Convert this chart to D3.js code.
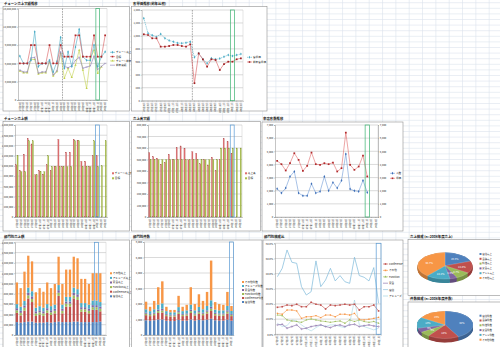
<!DOCTYPE html>
<html><head><meta charset="utf-8">
<script src="https://cdn.jsdelivr.net/npm/d3@7"></script>
<style>
html,body{margin:0;padding:0;background:#fff;overflow:hidden;}
svg{display:block;font-family:"Noto Sans CJK JP","Noto Sans",sans-serif;}
</style></head><body>
<svg id="c" width="500" height="347"></svg>
<script>
// ---------------- DATA ----------------
const months = ["07年4月","07年5月","07年6月","07年7月","07年8月","07年9月","07年10月","07年11月","07年12月","08年1月","08年2月","08年3月",
                "08年4月","08年5月","08年6月","08年7月","08年8月","08年9月","08年10月","08年11月","08年12月","09年1月","09年2月","09年3月"];
const months22 = months.slice(0,22);

// chart 1 (百万円)
const c1Names = ["チェーン売上","目標","チェーン前年","前年実績"];
const c1Actual = [7.2,6.0,6.0,6.5,11.2,5.5,6.0,6.0,6.5,4.6,6.3,10.3,5.2,7.9,5.5,8.7,11.6,7.1,6.5,6.5,9.0,5.5,7.1,7.9];
const c1Target = [6.0,6.0,6.0,9.0,9.0,6.0,6.0,6.0,9.0,6.0,6.0,9.0,7.1,7.1,7.1,10.6,10.6,7.1,7.1,7.1,10.6,7.1,7.1,10.6];
const c1Prev   = [4.75,4.47,4.47,6.65,6.65,4.25,4.47,4.47,6.27,3.93,4.64,7.64,3.55,5.18,3.71,5.73,8.18,4.9,1.9,6.8,8.18,4.36,5.45];
const c1Prev2  = [4.9,4.6,4.6,6.9,7.0,4.4,4.6,4.6,6.5,4.1,4.8,7.9,5.5,5.3,5.6,6.5,7.0,5.2,5.4,5.6,7.2,5.0,5.5,6.0];

// chart 2
const c2Names = ["客単価","前年客単価"];
const c2Blue = [1272,1040,1010,985,1030,963,930,911,890,886,895,911,669,731,639,577,654,639,650,679,705,690,705,721];
const c2Red  = [1025,1014,963,963,834,834,844,860,860,844,834,870,270,731,639,525,639,628,474,566,602,602,639,655];

// chart 3 (百万円)
const c3Names = ["チェーン売上額","目標"];
const c3Actual = [1.02,0.91,1.23,1.54,1.43,0.83,0.91,0.84,1.02,0.91,0.99,1.52,0.99,1.27,1.27,1.52,1.49,1.09,1.09,0.99,1.2,1.2];
const c3Target = [1.2,0.89,0.89,1.49,1.49,0.83,0.89,0.89,1.2,0.99,0.99,0.99,0.99,0.99,0.99,1.49,1.49,0.99,0.99,0.99,1.49,0.99,1.0,1.49];

// chart 4 (千円)
const c4Names = ["売上高","目標"];
const c4Actual = [560,526,511,459,474,546,497,606,618,598,497,569,555,462,497,453,520,404,497,684,656,555];
const c4Target = [500,500,500,500,500,500,500,500,500,500,500,500,500,500,500,500,500,500,600,600,600,600,600,600];

// chart 5
const c5Names = ["人数","単価"];
const c5Red  = [4271,4018,3538,4094,4852,4347,3513,3892,4903,4018,3968,4094,4018,4144,3462,3715,6419,3968,3589,3841,4675,3083];
const c5Blue = [2148,1820,2199,3083,3462,1820,1617,1617,2527,1820,1946,3083,1996,2628,2199,2780,4802,2123,1996,1946,2780,1870];

// chart 6 (百万円, stacked)
const deptNames = ["宿泊","Conference","Function","宴会","アミューズ","その他"];
const c6Hotel = [0.25,0.24,0.25,0.26,0.26,0.24,0.24,0.24,0.25,0.24,0.25,0.26,0.25,0.25,0.25,0.26,0.26,0.25,0.25,0.25,0.25,0.25,0.26];
const c6Conf  = [0.18,0.14,0.22,0.45,0.38,0.13,0.15,0.13,0.18,0.15,0.17,0.50,0.17,0.30,0.30,0.45,0.42,0.20,0.20,0.17,0.24,0.24,0.20];
const c6Func  = [0.05,0.05,0.06,0.06,0.06,0.05,0.05,0.05,0.05,0.05,0.05,0.06,0.05,0.06,0.06,0.06,0.06,0.05,0.05,0.05,0.05,0.05,0.05];
const c6Ban   = [0.04,0.04,0.04,0.05,0.05,0.04,0.04,0.04,0.04,0.04,0.04,0.05,0.04,0.04,0.04,0.05,0.05,0.04,0.04,0.04,0.04,0.04,0.04];
const c6Amu   = [0.08,0.08,0.09,0.10,0.10,0.07,0.08,0.07,0.08,0.08,0.08,0.10,0.08,0.09,0.09,0.10,0.10,0.08,0.08,0.08,0.09,0.09,0.09];
const c6Other = [0.42,0.36,0.57,0.62,0.58,0.30,0.35,0.31,0.42,0.35,0.40,0.55,0.40,0.53,0.53,0.60,0.60,0.47,0.47,0.40,0.53,0.53,0.56];

// chart 7 (件数, stacked)
const c7Hotel = [950,920,950,1000,1000,920,900,900,980,920,930,1000,930,980,950,990,1050,950,930,930,990,920];
const c7Conf  = [330,300,330,420,450,300,280,280,380,300,310,420,310,380,330,400,500,320,310,310,400,300];
const c7Func  = [90,80,90,120,130,80,70,70,100,80,85,120,85,100,90,110,150,90,85,85,110,80];
const c7Ban   = [70,60,70,100,110,60,55,55,80,60,65,100,65,80,70,90,120,70,65,65,90,60];
const c7Amu   = [220,180,220,320,350,180,160,160,260,180,200,320,200,270,220,280,420,210,200,200,280,190];
const c7Other = [488,280,539,1123,1422,280,152,152,727,280,356,1123,406,818,539,910,2562,483,406,356,910,320];

// chart 8 (構成比 %)
const c8Names = ["宿泊","Conference","Function","宴会","アミューズ","その他"];
const c8Main   = [38.0,43.5,55.6,47.5,46.8,31.4,25.9,28.1,48.4,31.4,35.8,43.5,35.2,38.7,34.7,33.6,50.8,38.7,37.6,35.2,44.0,20.4];
const c8Red    = [17.8,18.2,19.3,18.9,19.8,18.2,18.2,21.1,19.8,19.3,16.7,19.3,18.9,19.3,19.8,19.3,19.8,16.0,18.2,18.2,19.3,15.4];
const c8Orange = [13.8,13.2,16.0,16.0,15.4,10.5,11.6,11.6,12.3,11.0,12.7,12.7,11.6,13.2,13.2,12.7,13.8,9.9,9.5,9.9,10.5,11.2];
const c8Green  = [12.7,12.3,9.5,8.8,8.4,7.9,9.5,10.1,9.5,8.8,8.4,7.9,8.4,8.8,7.3,9.5,8.4,9.5,8.4,7.9,8.4,7.3];
const c8Purple = [6.2,6.6,4.0,5.1,6.2,3.5,4.0,5.1,5.7,6.2,5.1,4.4,5.7,6.2,5.1,6.2,6.6,5.1,5.7,6.2,5.5,5.1];
const c8Teal   = [7.3,5.1,5.7,9.5,8.8,6.2,4.0,2.2,4.4,6.2,5.1,6.2,6.2,5.1,4.4,7.3,22.6,6.2,5.1,4.0,2.9,4.0];

// pies
const pie1Names = ["宿泊売上","会議売上","料飲売上","宴会売上","アミュ売上","その他売上"];
const pie1Vals = [19.3,14.8,8.7,4.3,14.2,38.7];
const pie2Names = ["宿泊件数","会議件数","料飲件数","宴会件数","アミュ件数","その他件数"];
const pie2Vals = [42,18,6,5,13,16];

const deptColors = ["#4f81bd","#c0504d","#9bbb59","#8064a2","#4bacc6","#f79646"];

// ---------------- DRAW ----------------
const svg = d3.select("#c");
const FONT = '"Noto Sans CJK JP","Noto Sans",sans-serif';

// spreadsheet grid
const grid = svg.append("g").attr("stroke","#dce3ec").attr("stroke-width",0.6);
grid.selectAll(".v").data(d3.range(9.3,500,13.33)).join("line").attr("x1",d=>d).attr("x2",d=>d).attr("y1",0).attr("y2",347);
grid.selectAll(".h").data(d3.range(2.7,347,5.6)).join("line").attr("y1",d=>d).attr("y2",d=>d).attr("x1",0).attr("x2",500);

function panel(x,y,w,h){
  svg.append("rect").attr("x",x).attr("y",y).attr("width",w).attr("height",h)
    .attr("fill","#fff").attr("stroke","#8f8f8f").attr("stroke-width",0.6);
}
function title(x,y,t){
  svg.append("text").attr("x",x).attr("y",y).attr("font-size",3.4).attr("font-weight","bold")
    .attr("fill","#1a1a1a").attr("font-family",FONT).text(t);
}
function base(o){
  const g = svg.append("g");
  const x = d3.scaleBand().domain(o.cats).range([o.x0,o.x1]);
  const y = d3.scaleLinear().domain([0,o.ymax]).range([o.y1,o.y0]);
  const ticks = d3.range(0,o.ymax+o.ystep*0.5,o.ystep);
  g.append("g").selectAll("line").data(ticks).join("line")
    .attr("x1",o.x0).attr("x2",o.x1).attr("y1",d=>y(d)).attr("y2",d=>y(d))
    .attr("stroke","#b5b5b5").attr("stroke-width",0.5);
  g.append("line").attr("x1",o.x1).attr("x2",o.x1).attr("y1",o.y0).attr("y2",o.y1).attr("stroke","#c8c8c8").attr("stroke-width",0.5);
  const ya = g.append("g").attr("transform",`translate(${o.x0},0)`)
    .call(d3.axisLeft(y).tickValues(ticks).tickSize(1).tickPadding(0.8).tickFormat(o.fmt));
  const axes=[ya];
  if(o.right){
    const ra = g.append("g").attr("transform",`translate(${o.x1},0)`)
      .call(d3.axisRight(y).tickValues(ticks).tickSize(1).tickPadding(0.8).tickFormat(o.fmt));
    axes.push(ra);
  }
  const xa = g.append("g").attr("transform",`translate(0,${o.y1})`)
    .call(d3.axisBottom(x).tickSize(1).tickPadding(1));
  xa.selectAll("text").attr("transform","rotate(-90)").attr("x",-1.4).attr("y",0).attr("dy","0.35em").attr("text-anchor","end");
  axes.forEach(a=>a.selectAll("text").attr("font-size",o.yfs||2.6));
  xa.selectAll("text").attr("font-size",2.6);
  axes.concat([xa]).forEach(a=>{
    a.attr("font-family",FONT);
    a.selectAll("text").attr("fill","#333");
    a.select(".domain").attr("stroke","#8a8a8a").attr("stroke-width",0.5);
    a.selectAll(".tick line").attr("stroke","#8a8a8a").attr("stroke-width",0.4);
  });
  return {g,x,y,o};
}
function addLine(c, vals, color, opt){
  const {g,x,y} = c; const cats = c.o.cats;
  const pts = vals.map((v,i)=>({c:cats[i],v}));
  g.append("path").datum(pts).attr("fill","none").attr("stroke",color)
    .attr("stroke-width",opt.w||0.6).attr("stroke-dasharray",opt.dash||null)
    .attr("d",d3.line().x(d=>x(d.c)+x.bandwidth()/2).y(d=>(opt.ys||y)(d.v)));
  if(opt.symbol){
    g.append("g").selectAll("path").data(pts).join("path")
      .attr("transform",d=>`translate(${x(d.c)+x.bandwidth()/2},${(opt.ys||y)(d.v)})`)
      .attr("d",d3.symbol().type(opt.symbol).size(opt.size||2.6))
      .attr("fill",opt.stroked?"none":(opt.mfill||color))
      .attr("stroke",opt.stroked?(opt.mfill||color):"none").attr("stroke-width",0.4);
  }
}
function vline(c, cat){
  const {g,x,o}=c;
  g.append("line").attr("x1",x(cat)).attr("x2",x(cat)).attr("y1",o.y0).attr("y2",o.y1)
    .attr("stroke","#555").attr("stroke-width",0.5).attr("stroke-dasharray","1.6,1");
}
function hilite(c, cat, color){
  const {g,x,o}=c;
  g.append("rect").attr("x",x(cat)).attr("y",o.y0).attr("width",x.bandwidth()).attr("height",o.y1-o.y0)
    .attr("fill","none").attr("stroke",color).attr("stroke-width",0.7);
}
function legend(x,y0,dy,items,fs){
  fs = fs||2.6;
  const g = svg.append("g").attr("font-family",FONT);
  items.forEach((it,i)=>{
    const y=y0+i*dy;
    if(it.kind==="rect"){
      g.append("rect").attr("x",x).attr("y",y-1).attr("width",2).attr("height",2).attr("fill",it.color);
      g.append("text").attr("x",x+2.8).attr("y",y).attr("dy","0.35em").attr("font-size",fs).attr("fill","#222").text(it.label);
    } else {
      g.append("line").attr("x1",x).attr("x2",x+5).attr("y1",y).attr("y2",y).attr("stroke",it.color).attr("stroke-width",0.6).attr("stroke-dasharray",it.dash||null);
      if(it.symbol) g.append("path").attr("transform",`translate(${x+2.5},${y})`).attr("d",d3.symbol().type(it.symbol).size(2.6)).attr("fill",it.mfill||it.color);
      g.append("text").attr("x",x+6).attr("y",y).attr("dy","0.35em").attr("font-size",fs).attr("fill","#222").text(it.label);
    }
  });
}
function bars(c, series, colors){
  const {g,x,y}=c; const cats=c.o.cats;
  const inner = d3.scaleBand().domain(d3.range(series.length)).range([x.bandwidth()*0.14,x.bandwidth()*0.86]).padding(0.08);
  series.forEach((s,k)=>{
    g.append("g").selectAll("rect").data(s).join("rect")
      .attr("x",(d,i)=>x(cats[i])+inner(k)).attr("width",inner.bandwidth())
      .attr("y",d=>y(d)).attr("height",d=>y(0)-y(d))
      .attr("fill",colors[k]).attr("stroke",d3.color(colors[k]).darker(0.6)).attr("stroke-width",0.2);
  });
}
function stacked(c, series, colors){
  const {g,x,y}=c; const cats=c.o.cats;
  const rows = series[0].map((_,i)=>{const r={cat:cats[i]}; series.forEach((s,k)=>r["k"+k]=s[i]); return r;});
  const st = d3.stack().keys(series.map((_,k)=>"k"+k))(rows);
  st.forEach((layer,k)=>{
    g.append("g").selectAll("rect").data(layer).join("rect")
      .attr("x",d=>x(d.data.cat)+x.bandwidth()*0.2).attr("width",x.bandwidth()*0.6)
      .attr("y",d=>y(d[1])).attr("height",d=>y(d[0])-y(d[1]))
      .attr("fill",colors[k]);
  });
}
function pie3d(cx,cy,rx,ry,depth,vals,colors,fmt){
  const g = svg.append("g");
  const arcs = d3.pie().sort(null)(vals);
  const arc = d3.arc().innerRadius(0).outerRadius(rx);
  const k = ry/rx;
  for(let dd=depth; dd>0; dd-=0.4){
    g.append("g").attr("transform",`translate(${cx},${cy+dd}) scale(1,${k})`)
      .selectAll("path").data(arcs).join("path").attr("d",arc)
      .attr("fill",(d,i)=>d3.color(colors[i]).darker(0.7));
  }
  g.append("g").attr("transform",`translate(${cx},${cy}) scale(1,${k})`)
    .selectAll("path").data(arcs).join("path").attr("d",arc)
    .attr("fill",(d,i)=>colors[i]).attr("stroke","#fff").attr("stroke-width",0.2);
  const lab = d3.arc().innerRadius(rx*0.62).outerRadius(rx*0.62);
  g.append("g").attr("font-family",FONT).selectAll("text").data(arcs).join("text")
    .attr("x",d=>cx+lab.centroid(d)[0]).attr("y",d=>cy+lab.centroid(d)[1]*k)
    .attr("text-anchor","middle").attr("dy","0.35em").attr("font-size",2.6).attr("fill","#fff")
    .text(d=>fmt(d.data));
}
const fmtMil = d=>d3.format(",")(Math.round(d*1e6));

// ---- Chart 1 ----
panel(3,6.5,126.5,104.5);
title(4,4.5,"チェーン売上実績推移");
const ch1 = base({cats:months,x0:18,x1:107,y0:8.5,y1:100,ymax:15,ystep:3,fmt:fmtMil});
vline(ch1, months[12]);
addLine(ch1,c1Prev,"#c3d24f",{symbol:d3.symbolTriangle,size:2.2});
addLine(ch1,c1Prev2,"#8a7bb3",{symbol:d3.symbolTimes,size:2,stroked:true});
addLine(ch1,c1Actual,"#4bacc6",{symbol:d3.symbolDiamond,size:2.6});
addLine(ch1,c1Target,"#d9595b",{symbol:d3.symbolSquare,size:3,mfill:"#b02a2c"});
hilite(ch1, months[21], "#3cb371");
legend(110,52.3,4.3,[
  {label:c1Names[0],color:"#4bacc6",symbol:d3.symbolDiamond},
  {label:c1Names[1],color:"#d9595b",symbol:d3.symbolSquare,mfill:"#b02a2c"},
  {label:c1Names[2],color:"#c3d24f",symbol:d3.symbolTriangle},
  {label:c1Names[3],color:"#8a7bb3",symbol:d3.symbolTimes}]);

// ---- Chart 2 ----
panel(131.5,6.5,135.5,104.5);
title(133,4.5,"客単価推移(前年比較)");
const ch2 = base({cats:months,x0:141.7,x1:243,y0:10,y1:100.7,ymax:1400,ystep:200,fmt:d3.format(",")});
vline(ch2, months[12]);
addLine(ch2,c2Blue,"#4bacc6",{symbol:d3.symbolDiamond,size:2.6,dash:"1.2,0.7"});
addLine(ch2,c2Red,"#d9595b",{symbol:d3.symbolSquare,size:3,mfill:"#9e2224"});
hilite(ch2, months[21], "#3cb371");
legend(247,57.3,4.7,[
  {label:c2Names[0],color:"#4bacc6",symbol:d3.symbolDiamond,dash:"1.2,0.7"},
  {label:c2Names[1],color:"#d9595b",symbol:d3.symbolSquare,mfill:"#9e2224"}]);

// ---- Chart 3 ----
panel(3,121.5,126.5,109.5);
title(4,119.5,"チェーン売上額");
const ch3 = base({cats:months,x0:15,x1:107,y0:125,y1:217,ymax:1.8,ystep:0.2,fmt:fmtMil});
bars(ch3,[c3Actual,c3Target],["#dd6e70","#a9bf4c"]);
hilite(ch3, months[21], "#5b9bd5");
legend(112,173.3,5,[
  {label:c3Names[0],color:"#dd6e70",kind:"rect"},
  {label:c3Names[1],color:"#a9bf4c",kind:"rect"}]);

// ---- Chart 4 ----
panel(131.5,121.5,129,109.5);
title(133,119.5,"売上高実績");
const ch4 = base({cats:months,x0:148,x1:242,y0:125,y1:217,ymax:800,ystep:100,fmt:d=>d3.format(",")(d*1000)});
bars(ch4,[c4Actual,c4Target],["#dd6e70","#a9bf4c"]);
hilite(ch4, months[21], "#5b9bd5");
legend(245,173.3,5,[
  {label:c4Names[0],color:"#dd6e70",kind:"rect"},
  {label:c4Names[1],color:"#a9bf4c",kind:"rect"}]);

// ---- Chart 5 ----
panel(262,122,141,109);
title(263,119.8,"来店客数推移");
const ch5 = base({cats:months,x0:275,x1:378,y0:125,y1:217,ymax:7000,ystep:1000,fmt:d3.format(","),right:true});
addLine(ch5,c5Blue,"#6f9bd6",{symbol:d3.symbolDiamond,size:2.6,mfill:"#3e6fb8"});
addLine(ch5,c5Red,"#e06a6a",{symbol:d3.symbolSquare,size:3,mfill:"#b02a2c"});
hilite(ch5, months[21], "#3cb371");
legend(390,173.3,5,[
  {label:c5Names[0],color:"#6f9bd6",symbol:d3.symbolDiamond,mfill:"#3e6fb8"},
  {label:c5Names[1],color:"#e06a6a",symbol:d3.symbolSquare,mfill:"#b02a2c"}]);

// ---- Chart 6 ----
panel(3,240,126.5,110);
title(4,238,"部門別売上額");
const ch6 = base({cats:months,x0:15,x1:106,y0:242.3,y1:335,ymax:1.8,ystep:0.2,fmt:fmtMil});
stacked(ch6,[c6Hotel,c6Conf,c6Func,c6Ban,c6Amu,c6Other],deptColors);
hilite(ch6, months[21], "#5b9bd5");
legend(110,273.3,4.6,deptNames.map((n,i)=>({label:n+"売上",color:deptColors[i],kind:"rect"})).reverse());

// ---- Chart 7 ----
panel(131.5,240,130.5,110);
title(133,238,"部門別件数");
const ch7 = base({cats:months22,x0:144,x1:233.5,y0:242,y1:335,ymax:6000,ystep:1000,fmt:d3.format(",")});
stacked(ch7,[c7Hotel,c7Conf,c7Func,c7Ban,c7Amu,c7Other],deptColors);
hilite(ch7, months22[21], "#5b9bd5");
legend(242,282,4,deptNames.map((n,i)=>({label:n+"件数",color:deptColors[i],kind:"rect"})).reverse());

// ---- Chart 8 ----
panel(263,240,140,110);
title(264,238,"部門別構成比");
const ch8 = base({cats:months22,x0:275,x1:381,y0:243.3,y1:334.3,ymax:60,ystep:10,fmt:d=>d.toFixed(1)+"%"});
const c8Cols = ["#7db9da","#c0504d","#f79646","#9bbb59","#8064a2","#93cddd"];
addLine(ch8,c8Teal,c8Cols[5],{w:0.5});
addLine(ch8,c8Purple,c8Cols[4],{symbol:d3.symbolCircle,size:1.6,stroked:true});
addLine(ch8,c8Green,c8Cols[3],{symbol:d3.symbolTriangle,size:1.6});
addLine(ch8,c8Orange,c8Cols[2],{symbol:d3.symbolSquare,size:1.8});
addLine(ch8,c8Red,c8Cols[1],{symbol:d3.symbolSquare,size:2.6});
addLine(ch8,c8Main,c8Cols[0],{w:0.7});
hilite(ch8, months22[21], "#5b9bd5");
legend(383,264,6.4,[
  {label:c8Names[1],color:c8Cols[1],symbol:d3.symbolSquare},
  {label:c8Names[5],color:c8Cols[2],symbol:d3.symbolSquare},
  {label:c8Names[2],color:c8Cols[3],symbol:d3.symbolTriangle},
  {label:c8Names[3],color:c8Cols[4]},
  {label:c8Names[0],color:c8Cols[0]},
  {label:c8Names[4],color:c8Cols[5]}]);

// ---- Pies ----
panel(408,239.5,100,56);
title(410,237.5,"売上構成 (n=2008年度売上)");
pie3d(445,265.8,27.3,13.2,4,pie1Vals,deptColors,d=>d.toFixed(1)+"%");
legend(479.5,254,4.8,pie1Names.map((n,i)=>({label:n,color:deptColors[i],kind:"rect"})),2.4);

panel(408,302,100,50);
title(410,300,"件数構成 (n=2008年度件数)");
pie3d(445,324.8,28,13.6,4,pie2Vals,deptColors,d=>d+"%");
legend(479.5,315.7,4.8,pie2Names.map((n,i)=>({label:n,color:deptColors[i],kind:"rect"})),2.4);
</script>
</body></html>
